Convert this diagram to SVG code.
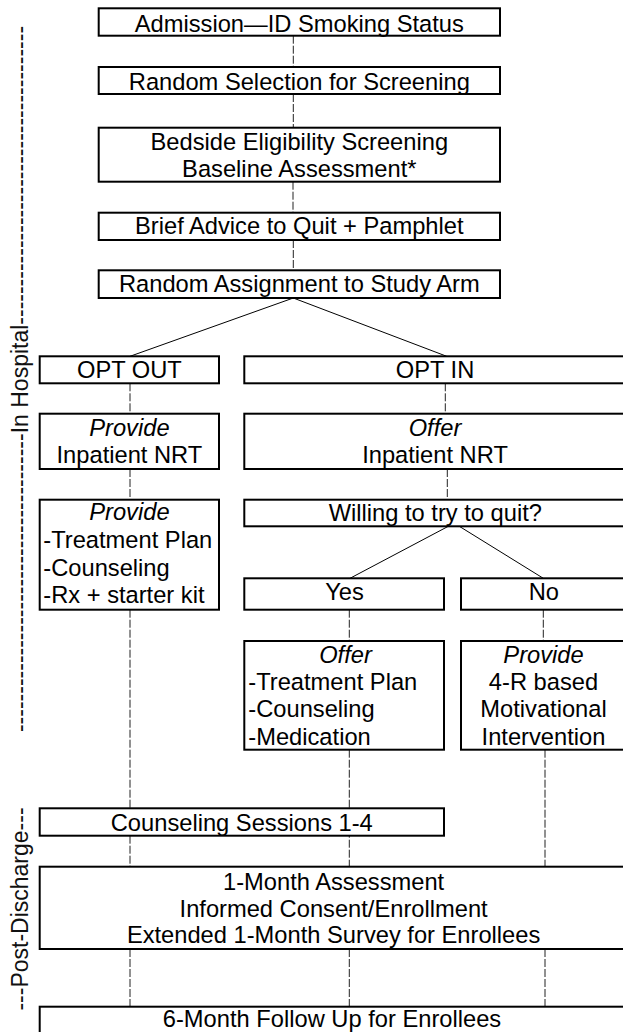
<svg xmlns="http://www.w3.org/2000/svg" width="623" height="1032" viewBox="0 0 623 1032">
<style>
.b{fill:#fff;stroke:#000;stroke-width:2}
.t{font-family:"Liberation Sans",Arial,sans-serif;font-size:23.7px;fill:#000}
.c{text-anchor:middle}
.i{font-style:italic}
.d{stroke:#222;stroke-width:1;stroke-dasharray:8 2;fill:none}
.s{stroke:#000;stroke-width:1;fill:none}
.side{font-family:"Liberation Sans",Arial,sans-serif;font-size:23px;fill:#111;text-anchor:middle}
</style>
<rect width="623" height="1032" fill="#fff"/>
<g id="connectors">
<line class="d" x1="293.3" y1="35.7" x2="293.3" y2="67"/>
<line class="d" x1="293.3" y1="94" x2="293.3" y2="127.7"/>
<line class="d" x1="293" y1="181.7" x2="293" y2="212.7"/>
<line class="d" x1="293.3" y1="240" x2="293.3" y2="270.3"/>
<line class="s" x1="293.3" y1="298" x2="130" y2="356.3"/>
<line class="s" x1="293.3" y1="298" x2="446.7" y2="356.3"/>
<line class="d" x1="130" y1="383.3" x2="130" y2="413.7"/>
<line class="d" x1="130" y1="469" x2="130" y2="499.7"/>
<line class="d" x1="130" y1="609.7" x2="130" y2="808.3"/>
<line class="d" x1="130" y1="835.7" x2="130" y2="866.7"/>
<line class="d" x1="130" y1="949" x2="130" y2="1006.7"/>
<line class="d" x1="445.3" y1="383.3" x2="445.3" y2="413.7"/>
<line class="d" x1="447.3" y1="469" x2="447.3" y2="499.7"/>
<line class="s" x1="448.3" y1="526.3" x2="350" y2="578.3"/>
<line class="s" x1="459.3" y1="526.3" x2="543.3" y2="578.3"/>
<line class="d" x1="349.3" y1="609.7" x2="349.3" y2="641"/>
<line class="d" x1="543.3" y1="609.7" x2="543.3" y2="641"/>
<line class="d" x1="349.3" y1="749.7" x2="349.3" y2="866.7"/>
<line class="d" x1="545" y1="749.7" x2="545" y2="866.7"/>
<line class="d" x1="349.3" y1="949" x2="349.3" y2="1006.7"/>
<line class="d" x1="545" y1="949" x2="545" y2="1006.7"/>
</g>
<g id="side-labels">
<text class="side" transform="translate(28.3,379) rotate(-90)">---------------------------------------In Hospital---------------------------------------</text>
<text class="side" transform="translate(28.3,909) rotate(-90)">---Post-Discharge---</text>
</g>
<g id="n1"><rect class="b" x="98.7" y="8.3" width="401.3" height="27.4"/><text class="t c" x="299.3" y="31.5">Admission—ID Smoking Status</text></g>
<g id="n2"><rect class="b" x="98.7" y="67" width="401.3" height="27"/><text class="t c" x="299.3" y="89.5">Random Selection for Screening</text></g>
<g id="n3"><rect class="b" x="98.7" y="127.7" width="401.3" height="54"/><text class="t c" x="299.3" y="150">Bedside Eligibility Screening</text><text class="t c" x="299.3" y="176.7">Baseline Assessment*</text></g>
<g id="n4"><rect class="b" x="98.7" y="212.7" width="401.3" height="27.3"/><text class="t c" x="299.3" y="234.3">Brief Advice to Quit + Pamphlet</text></g>
<g id="n5"><rect class="b" x="98.7" y="270.3" width="401.3" height="27.7"/><text class="t c" x="299.3" y="291.7">Random Assignment to Study Arm</text></g>
<g id="optout"><rect class="b" x="39.7" y="356.3" width="179.3" height="27"/><text class="t c" x="129.4" y="378.3">OPT OUT</text></g>
<g id="optin"><rect class="b" x="244.3" y="356.3" width="383.7" height="27"/><text class="t c" x="435" y="378.3">OPT IN</text></g>
<g id="provide-nrt"><rect class="b" x="39.7" y="413.7" width="179.3" height="55.3"/><text class="t c i" x="129.4" y="436">Provide</text><text class="t c" x="129.4" y="463.3">Inpatient NRT</text></g>
<g id="offer-nrt"><rect class="b" x="244.3" y="413.7" width="383.7" height="55.3"/><text class="t c i" x="435" y="436">Offer</text><text class="t c" x="435" y="463.3">Inpatient NRT</text></g>
<g id="provide-list"><rect class="b" x="39.7" y="499.7" width="179.3" height="110"/><text class="t c i" x="129.4" y="520.3">Provide</text><text class="t" x="43.3" y="548">-Treatment Plan</text><text class="t" x="43.3" y="575.7">-Counseling</text><text class="t" x="43.3" y="603.3">-Rx + starter kit</text></g>
<g id="willing"><rect class="b" x="244.3" y="499.7" width="383.7" height="26.6"/><text class="t c" x="435.3" y="520.7">Willing to try to quit?</text></g>
<g id="yes"><rect class="b" x="244.3" y="578.3" width="199.7" height="31.4"/><text class="t c" x="344.5" y="600">Yes</text></g>
<g id="no"><rect class="b" x="461" y="578.3" width="167" height="31.4"/><text class="t c" x="543.8" y="600">No</text></g>
<g id="offer-list"><rect class="b" x="244.3" y="641" width="199.7" height="108.7"/><text class="t c i" x="345.5" y="662.7">Offer</text><text class="t" x="248.3" y="690">-Treatment Plan</text><text class="t" x="248.3" y="717.3">-Counseling</text><text class="t" x="248.3" y="745">-Medication</text></g>
<g id="provide-4r"><rect class="b" x="461" y="641" width="167" height="108.7"/><text class="t c i" x="543.5" y="662.7">Provide</text><text class="t c" x="543.5" y="690">4-R based</text><text class="t c" x="543.5" y="717.3">Motivational</text><text class="t c" x="543.5" y="745">Intervention</text></g>
<g id="counseling"><rect class="b" x="39.7" y="808.3" width="404.3" height="27.4"/><text class="t c" x="241.8" y="830.7">Counseling Sessions 1-4</text></g>
<g id="one-month"><rect class="b" x="39.7" y="866.7" width="588.3" height="82.3"/><text class="t c" x="333.6" y="890">1-Month Assessment</text><text class="t c" x="333.6" y="916.7">Informed Consent/Enrollment</text><text class="t c" x="333.6" y="943.3">Extended 1-Month Survey for Enrollees</text></g>
<g id="six-month"><rect class="b" x="39.7" y="1006.7" width="588.3" height="40"/><text class="t c" x="332" y="1026.5">6-Month Follow Up for Enrollees</text></g>
</svg>
